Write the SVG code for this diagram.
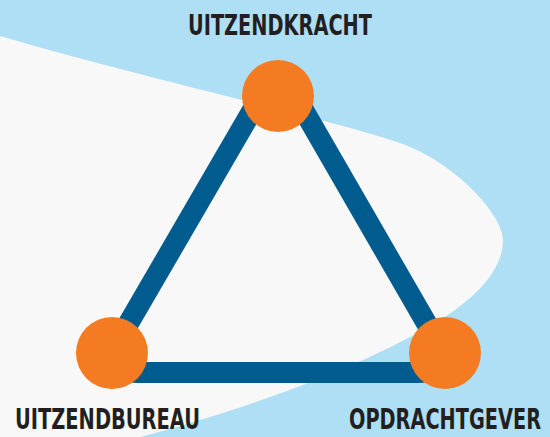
<svg xmlns="http://www.w3.org/2000/svg" width="550" height="437" viewBox="0 0 550 437">
  <style>
    .lbl { font-family: "DejaVu Sans Condensed", "DejaVu Sans", sans-serif; font-weight: bold; font-size: 29px; fill: #231F20; }
    .node { fill: #F47B21; }
    .edge { fill: none; stroke: #005C8F; stroke-width: 21; stroke-linejoin: round; }
  </style>
  <rect x="0" y="0" width="550" height="437" fill="#AEDFF5"/>
  <path d="M0,36 C150,80 330,119 400,143 C455,162 503,215 503,240 C503,265 485,288 455,310 C410,342 300,395 140,437 L0,437 Z" fill="#F8F8F8"/>
  <g id="connectors">
    <path class="edge" d="M119.1,339.6 L258.9,98.9 Q278,66 297.1,98.9 L435.9,339.6 Q455,372.5 417,372.5 L138,372.5 Q100,372.5 119.1,339.6 Z"/>
  </g>
  <g id="uitzendkracht">
    <circle class="node" cx="278" cy="96" r="36"/>
    <text class="lbl" x="188" y="35" font-size="30" textLength="184" lengthAdjust="spacingAndGlyphs">UITZENDKRACHT</text>
  </g>
  <g id="uitzendbureau">
    <circle class="node" cx="112" cy="353" r="36"/>
    <text class="lbl" x="15" y="429" textLength="185" lengthAdjust="spacingAndGlyphs">UITZENDBUREAU</text>
  </g>
  <g id="opdrachtgever">
    <circle class="node" cx="445" cy="353" r="36"/>
    <text class="lbl" transform="translate(349,429) scale(0.74,1)" x="0" y="0" textLength="259.5" lengthAdjust="spacingAndGlyphs">OPDRACHTGEVER</text>
  </g>
</svg>
